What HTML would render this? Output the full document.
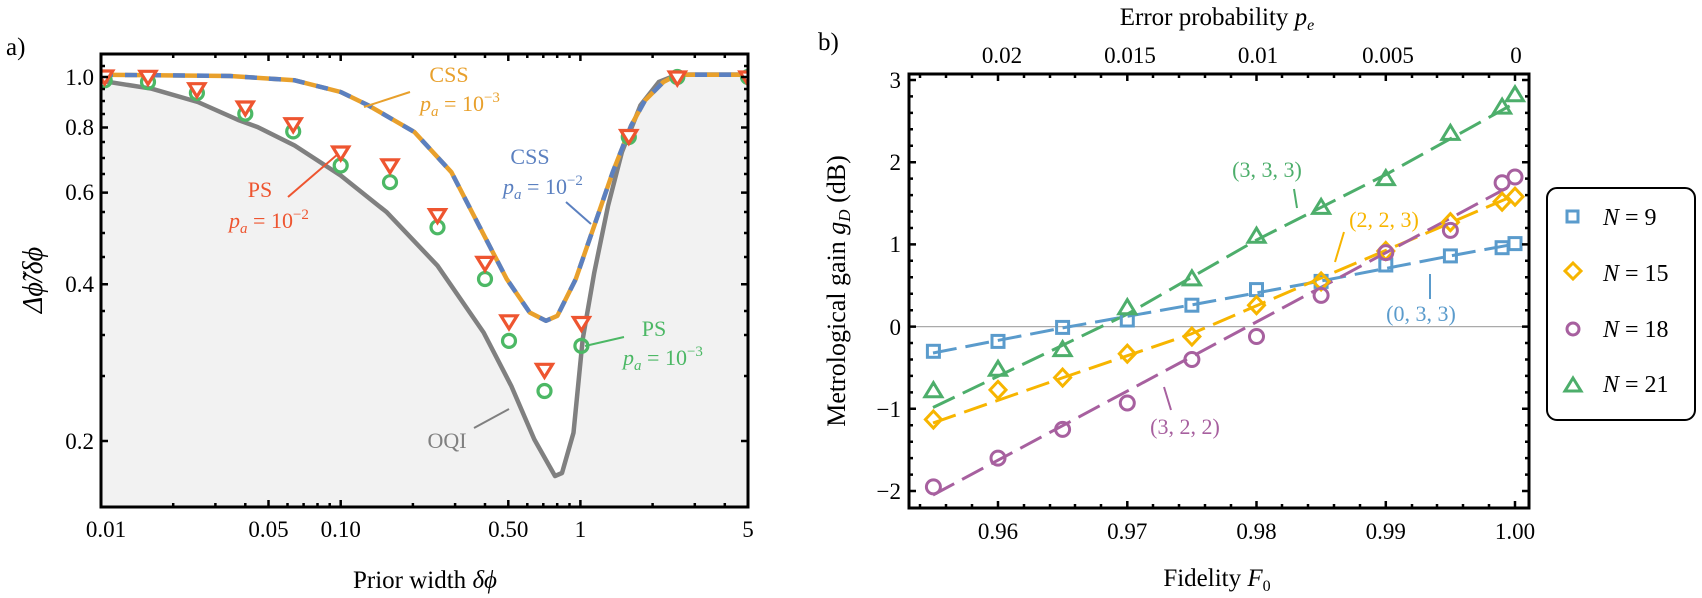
<!DOCTYPE html>
<html><head><meta charset="utf-8"><style>
html,body{margin:0;padding:0;background:#fff}
svg{display:block}
text{font-family:"Liberation Serif",serif}
</style></head><body>
<svg width="1702" height="598" viewBox="0 0 1702 598" xmlns="http://www.w3.org/2000/svg">
<defs>
<clipPath id="ca"><rect x="101" y="54" width="647" height="453"/></clipPath>
<clipPath id="cb"><rect x="909" y="74" width="620" height="434"/></clipPath>
</defs>
<!-- Panel a -->
<text x="6" y="55" font-size="25">a)</text>
<g clip-path="url(#ca)">
<polygon fill="#f2f2f2" points="101,80 104.7,81.3 151.7,88.7 197.8,102 239.3,120.4 257.7,127.1 294.6,145.5 340.7,175.5 386.8,212.3 437.5,265.7 483.6,332.5 511.3,386 534.3,439.4 555,476 562,473 573.5,432.7 582.7,339.2 594.3,272.4 608.1,205.6 621.9,152.2 640.4,105.4 658.8,82 677,74.7 690,74.5 748,74.5 748,507 101,507"/>
<polyline fill="none" stroke="#808080" stroke-width="4.5" stroke-linejoin="round" points="101,80 104.7,81.3 151.7,88.7 197.8,102 239.3,120.4 257.7,127.1 294.6,145.5 340.7,175.5 386.8,212.3 437.5,265.7 483.6,332.5 511.3,386 534.3,439.4 555,476 562,473 573.5,432.7 582.7,339.2 594.3,272.4 608.1,205.6 621.9,152.2 640.4,105.4 658.8,82 677,74.7 690,74.5 748,74.5"/>
<polyline fill="none" stroke="#e8a02c" stroke-width="4.5" stroke-linejoin="round" points="101,74.7 230.1,76 294.6,80.3 340.7,92 368.4,105.4 414.5,132.1 451.4,172.2 479,225.6 506.7,279 529.7,312.5 545.9,320.8 557.4,315.8 575.8,279 594.3,225.6 612.7,172.2 631.2,125.4 645,100.4 663.4,82 677.3,74.7 748,74.7"/>
<polyline fill="none" stroke="#5b80c0" stroke-width="4.5" stroke-dasharray="12,12" stroke-linejoin="round" points="101,74.7 230.1,76 294.6,80.3 340.7,92 368.4,105.4 414.5,132.1 451.4,172.2 479,225.6 506.7,279 529.7,312.5 545.9,320.8 557.4,315.8 575.8,279 594.3,225.6 612.7,172.2 631.2,125.4 645,100.4 663.4,82 677.3,74.7 748,74.7"/>
<g fill="none" stroke="#4cb865" stroke-width="3.2">
<circle cx="104.7" cy="80.3" r="6.5"/><circle cx="148" cy="82" r="6.5"/><circle cx="196.9" cy="93" r="6.5"/><circle cx="245.3" cy="113.7" r="6.5"/><circle cx="293.2" cy="131.4" r="6.5"/><circle cx="340.7" cy="165.5" r="6.5"/><circle cx="390" cy="182.2" r="6.5"/><circle cx="437.5" cy="227.3" r="6.5"/><circle cx="485" cy="279" r="6.5"/><circle cx="509" cy="340.9" r="6.5"/><circle cx="544.5" cy="391" r="6.5"/><circle cx="581.4" cy="345.9" r="6.5"/><circle cx="628.8" cy="137" r="6.5"/><circle cx="677.3" cy="77" r="6.5"/><circle cx="748" cy="77" r="6.5"/>
</g>
<g fill="#fff" stroke="#ee5530" stroke-width="3.2" stroke-linejoin="miter">
<polygon points="96.7,71 112.7,71 104.7,84"/>
<polygon points="140,71.3 156,71.3 148,84.3"/>
<polygon points="188.9,83.7 204.9,83.7 196.9,96.7"/>
<polygon points="237.3,102 253.3,102 245.3,115"/>
<polygon points="285.2,118.7 301.2,118.7 293.2,131.7"/>
<polygon points="332.7,147 348.7,147 340.7,160"/>
<polygon points="382,159.8 398,159.8 390,172.8"/>
<polygon points="429.5,209.6 445.5,209.6 437.5,222.6"/>
<polygon points="477,257.4 493,257.4 485,270.4"/>
<polygon points="501,315.8 517,315.8 509,328.8"/>
<polygon points="536.5,364.3 552.5,364.3 544.5,377.3"/>
<polygon points="573.4,317.5 589.4,317.5 581.4,330.5"/>
<polygon points="620.8,130.5 636.8,130.5 628.8,143.5"/>
<polygon points="669.3,72 685.3,72 677.3,85"/>
<polygon points="740,72 756,72 748,85"/>
</g>
</g>
<g stroke-width="2" fill="none">
<line x1="410" y1="92" x2="364" y2="107" stroke="#e8a02c"/>
<line x1="566" y1="202" x2="591" y2="224" stroke="#5b80c0"/>
<line x1="288" y1="197" x2="338" y2="154" stroke="#ee5530"/>
<line x1="624" y1="337" x2="585" y2="346" stroke="#4cb865"/>
<line x1="474" y1="428" x2="509" y2="409" stroke="#808080"/>
</g>
<g font-size="22">
<text x="449" y="82" fill="#e8a02c" text-anchor="middle">CSS</text>
<text x="460" y="111" fill="#e8a02c" text-anchor="middle"><tspan font-style="italic">p</tspan><tspan font-style="italic" font-size="15" dy="5">a</tspan><tspan dy="-5"> = 10</tspan><tspan font-size="15" dy="-9">−3</tspan></text>
<text x="530" y="164" fill="#5b80c0" text-anchor="middle">CSS</text>
<text x="543" y="194" fill="#5b80c0" text-anchor="middle"><tspan font-style="italic">p</tspan><tspan font-style="italic" font-size="15" dy="5">a</tspan><tspan dy="-5"> = 10</tspan><tspan font-size="15" dy="-9">−2</tspan></text>
<text x="260" y="197" fill="#ee5530" text-anchor="middle">PS</text>
<text x="269" y="228" fill="#ee5530" text-anchor="middle"><tspan font-style="italic">p</tspan><tspan font-style="italic" font-size="15" dy="5">a</tspan><tspan dy="-5"> = 10</tspan><tspan font-size="15" dy="-9">−2</tspan></text>
<text x="654" y="336" fill="#4cb865" text-anchor="middle">PS</text>
<text x="663" y="365" fill="#4cb865" text-anchor="middle"><tspan font-style="italic">p</tspan><tspan font-style="italic" font-size="15" dy="5">a</tspan><tspan dy="-5"> = 10</tspan><tspan font-size="15" dy="-9">−3</tspan></text>
<text x="447" y="448" fill="#808080" text-anchor="middle">OQI</text>
</g>
<rect x="101" y="54" width="647" height="453" fill="none" stroke="#000" stroke-width="3"/>
<g stroke="#000" stroke-width="2.5">
<path d="M101,507v-7M268.5,507v-7M340.7,507v-7M508.3,507v-7M580.4,507v-7M748,507v-7M268.5,54v7M340.7,54v7M508.3,54v7M580.4,54v7"/>
<path d="M173.2,507v-4M215.4,507v-4M245.3,507v-4M287.5,507v-4M303.6,507v-4M317.5,507v-4M329.7,507v-4M412.9,507v-4M455.1,507v-4M485,507v-4M527.3,507v-4M543.3,507v-4M557.2,507v-4M569.5,507v-4M652.6,507v-4M694.8,507v-4M724.8,507v-4M173.2,54v4M215.4,54v4M245.3,54v4M287.5,54v4M303.6,54v4M317.5,54v4M329.7,54v4M412.9,54v4M455.1,54v4M485,54v4M527.3,54v4M543.3,54v4M557.2,54v4M569.5,54v4M652.6,54v4M694.8,54v4M724.8,54v4"/>
<path d="M101,77h7M101,127.5h7M101,192.6h7M101,284.3h7M101,441h7M748,77h-7M748,127.5h-7M748,192.6h-7M748,284.3h-7M748,441h-7"/>
<path d="M101,376h4M101,335h4M101,311h4M101,257h4M101,233h4M101,212h4M101,174h4M101,158h4M101,142h4M101,114h4M101,101h4M101,89h4M101,66h4M748,376h-4M748,335h-4M748,311h-4M748,257h-4M748,233h-4M748,212h-4M748,174h-4M748,158h-4M748,142h-4M748,114h-4M748,101h-4M748,89h-4M748,66h-4"/>
</g>
<g font-size="23" text-anchor="end">
<text x="94" y="85">1.0</text><text x="94" y="135">0.8</text><text x="94" y="200">0.6</text><text x="94" y="292">0.4</text><text x="94" y="449">0.2</text>
</g>
<g font-size="23" text-anchor="middle">
<text x="106" y="537">0.01</text><text x="268.5" y="537">0.05</text><text x="340.7" y="537">0.10</text><text x="508.3" y="537">0.50</text><text x="580.4" y="537">1</text><text x="748" y="537">5</text>
</g>
<text x="425" y="588" font-size="25" text-anchor="middle">Prior width <tspan font-style="italic">δϕ</tspan></text>
<text transform="translate(42,280) rotate(-90)" font-size="28" text-anchor="middle" font-style="italic">Δϕ̃/δϕ</text>

<!-- Panel b -->
<text x="818" y="50" font-size="25">b)</text>
<line x1="909" y1="326.6" x2="1529" y2="326.6" stroke="#aaa" stroke-width="1.3"/>
<g clip-path="url(#cb)" fill="none" stroke-width="3" stroke-dasharray="24,9">
<polyline stroke="#5a9bcc" points="933,353 1062,328 1191,305 1321,281 1450,256 1515,244"/>
<polyline stroke="#f7b500" points="933,423 1062,378 1191,334 1321,278 1450,223 1515,195"/>
<polyline stroke="#a7609f" points="933,495 1515,183.6"/>
<polyline stroke="#4dae6b" points="933,407.5 1127,314.3 1256,240.3 1386,174.5 1515,103"/>
</g>
<g fill="none" stroke-width="3">
<g stroke="#5a9bcc">
<rect x="927.4" y="345.3" width="12" height="12"/><rect x="992" y="335.4" width="12" height="12"/><rect x="1056.6" y="321.4" width="12" height="12"/><rect x="1121.3" y="314" width="12" height="12"/><rect x="1185.9" y="299.2" width="12" height="12"/><rect x="1250.5" y="283.6" width="12" height="12"/><rect x="1315.1" y="275.4" width="12" height="12"/><rect x="1379.8" y="259" width="12" height="12"/><rect x="1444.4" y="249.9" width="12" height="12"/><rect x="1496.1" y="241.7" width="12" height="12"/><rect x="1509" y="237.6" width="12" height="12"/>
</g>
<g stroke="#f7b500">
<path d="M933.4,411l8,8.5l-8,8.5l-8,-8.5z M998,381.4l8,8.5l-8,8.5l-8,-8.5z M1062.6,369.1l8,8.5l-8,8.5l-8,-8.5z M1127.3,345.2l8,8.5l-8,8.5l-8,-8.5z M1191.9,328l8,8.5l-8,8.5l-8,-8.5z M1256.5,296.7l8,8.5l-8,8.5l-8,-8.5z M1321.1,272.9l8,8.5l-8,8.5l-8,-8.5z M1385.8,242.5l8,8.5l-8,8.5l-8,-8.5z M1450.4,213.7l8,8.5l-8,8.5l-8,-8.5z M1502.1,193.2l8,8.5l-8,8.5l-8,-8.5z M1515,188.2l8,8.5l-8,8.5l-8,-8.5z"/>
</g>
<g stroke="#a7609f">
<circle cx="933.4" cy="486.9" r="7"/><circle cx="998" cy="458.1" r="7"/><circle cx="1062.6" cy="429.4" r="7"/><circle cx="1127.3" cy="403" r="7"/><circle cx="1191.9" cy="359.5" r="7"/><circle cx="1256.5" cy="336.5" r="7"/><circle cx="1321.1" cy="295.4" r="7"/><circle cx="1385.8" cy="252.6" r="7"/><circle cx="1450.4" cy="230.4" r="7"/><circle cx="1502.1" cy="182.8" r="7"/><circle cx="1515" cy="177" r="7"/>
</g>
<g stroke="#4dae6b" stroke-linejoin="miter">
<path d="M933.4,382.7l8.5,14h-17z M998,361.3l8.5,14h-17z M1062.6,341.6l8.5,14h-17z M1127.3,299.7l8.5,14h-17z M1191.9,270.9l8.5,14h-17z M1256.5,228.2l8.5,14h-17z M1321.1,199.4l8.5,14h-17z M1385.8,170.6l8.5,14h-17z M1450.4,125.4l8.5,14h-17z M1502.1,99.1l8.5,14h-17z M1515,86.8l8.5,14h-17z"/>
</g>
</g>
<g stroke-width="2">
<line x1="1294" y1="189" x2="1297" y2="208" stroke="#4dae6b"/>
<line x1="1344" y1="232" x2="1335" y2="262" stroke="#f7b500"/>
<line x1="1430" y1="274" x2="1430" y2="299" stroke="#5a9bcc"/>
<line x1="1164" y1="387" x2="1171" y2="410" stroke="#a7609f"/>
</g>
<g font-size="22" text-anchor="middle">
<text x="1267" y="177" fill="#4dae6b">(3, 3, 3)</text>
<text x="1384" y="227" fill="#f7b500">(2, 2, 3)</text>
<text x="1421" y="321" fill="#5a9bcc">(0, 3, 3)</text>
<text x="1185" y="434" fill="#a7609f">(3, 2, 2)</text>
</g>
<rect x="909" y="74" width="620" height="434" fill="none" stroke="#000" stroke-width="3"/>
<g stroke="#000" stroke-width="2.5">
<path d="M909,80h7M909,162.2h7M909,244.4h7M909,326.6h7M909,408.8h7M909,491h7M1529,80h-7M1529,162.2h-7M1529,244.4h-7M1529,326.6h-7M1529,408.8h-7M1529,491h-7"/>
<path d="M909,96.4h4M909,112.9h4M909,129.3h4M909,145.8h4M909,178.6h4M909,195.1h4M909,211.5h4M909,228h4M909,260.8h4M909,277.3h4M909,293.7h4M909,310.2h4M909,343h4M909,359.5h4M909,375.9h4M909,392.4h4M909,425.2h4M909,441.7h4M909,458.1h4M909,474.6h4M1529,96.4h-4M1529,112.9h-4M1529,129.3h-4M1529,145.8h-4M1529,178.6h-4M1529,195.1h-4M1529,211.5h-4M1529,228h-4M1529,260.8h-4M1529,277.3h-4M1529,293.7h-4M1529,310.2h-4M1529,343h-4M1529,359.5h-4M1529,375.9h-4M1529,392.4h-4M1529,425.2h-4M1529,441.7h-4M1529,458.1h-4M1529,474.6h-4"/>
<path d="M998,508v-7M1127.3,508v-7M1256.5,508v-7M1385.8,508v-7M1515,508v-7M998,74v7M1127.3,74v7M1256.5,74v7M1385.8,74v7M1515,74v7"/>
<path d="M920,508v-4M946,508v-4M972,508v-4M1024,508v-4M1050,508v-4M1075,508v-4M1101,508v-4M1153,508v-4M1179,508v-4M1205,508v-4M1231,508v-4M1282,508v-4M1308,508v-4M1334,508v-4M1360,508v-4M1412,508v-4M1437,508v-4M1463,508v-4M1489,508v-4M920,74v4M946,74v4M972,74v4M1024,74v4M1050,74v4M1075,74v4M1101,74v4M1153,74v4M1179,74v4M1205,74v4M1231,74v4M1282,74v4M1308,74v4M1334,74v4M1360,74v4M1412,74v4M1437,74v4M1463,74v4M1489,74v4"/>
</g>
<g font-size="23" text-anchor="end">
<text x="901" y="88">3</text><text x="901" y="170">2</text><text x="901" y="252">1</text><text x="901" y="335">0</text><text x="901" y="417">−1</text><text x="901" y="499">−2</text>
</g>
<g font-size="23" text-anchor="middle">
<text x="998" y="539">0.96</text><text x="1127.3" y="539">0.97</text><text x="1256.5" y="539">0.98</text><text x="1385.8" y="539">0.99</text><text x="1515" y="539">1.00</text>
<text x="1002" y="63">0.02</text><text x="1130" y="63">0.015</text><text x="1258" y="63">0.01</text><text x="1388" y="63">0.005</text><text x="1516" y="63">0</text>
</g>
<text x="1217" y="25" font-size="25" text-anchor="middle">Error probability <tspan font-style="italic">p</tspan><tspan font-style="italic" font-size="16" dy="5">e</tspan></text>
<text x="1217" y="586" font-size="25" text-anchor="middle">Fidelity <tspan font-style="italic">F</tspan><tspan font-size="16" dy="5">0</tspan></text>
<text transform="translate(845,291) rotate(-90)" font-size="26" text-anchor="middle">Metrological gain <tspan font-style="italic">g</tspan><tspan font-style="italic" font-size="17" dy="5">D</tspan><tspan dy="-5"> (dB)</tspan></text>
<rect x="1547" y="188" width="148" height="232" rx="10" fill="#fff" stroke="#000" stroke-width="2"/>
<rect x="1567" y="211" width="11" height="11" fill="none" stroke="#5a9bcc" stroke-width="3"/>
<path d="M1573,263l8,8l-8,8l-8,-8z" fill="none" stroke="#f7b500" stroke-width="3"/>
<circle cx="1573" cy="329" r="6" fill="none" stroke="#a7609f" stroke-width="3"/>
<path d="M1573,378l8,13h-16z" fill="none" stroke="#4dae6b" stroke-width="3"/>
<g font-size="24">
<text x="1603" y="225"><tspan font-style="italic">N</tspan> = 9</text>
<text x="1603" y="281"><tspan font-style="italic">N</tspan> = 15</text>
<text x="1603" y="337"><tspan font-style="italic">N</tspan> = 18</text>
<text x="1603" y="392"><tspan font-style="italic">N</tspan> = 21</text>
</g>
</svg>
</body></html>
